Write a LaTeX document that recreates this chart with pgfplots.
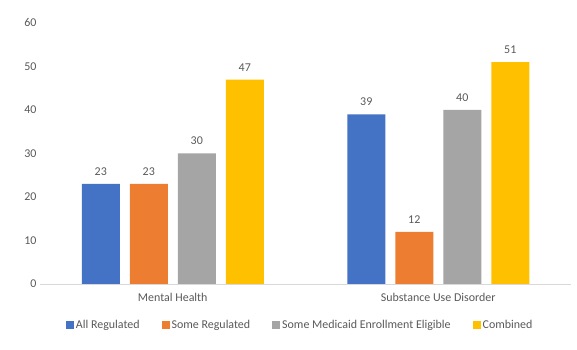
\documentclass[border=0pt]{standalone}
\usepackage{pgfplots}
\pgfplotsset{compat=1.18}
\usepackage{fontspec}
\setmainfont{Carlito}
\definecolor{cBlue}{HTML}{4472C4}
\definecolor{cOrange}{HTML}{ED7D31}
\definecolor{cGray}{HTML}{A5A5A5}
\definecolor{cYellow}{HTML}{FFC000}
\definecolor{txt}{HTML}{595959}
\definecolor{axl}{HTML}{D9D9D9}
\begin{document}
\begin{tikzpicture}
\useasboundingbox (0,0) rectangle (577bp,350bp);
\begin{axis}[
  at={(40bp,66bp)}, anchor=south west,
  scale only axis, width=531bp, height=261bp,
  ybar=10bp, bar width=38bp,
  xmin=-0.5, xmax=1.5, ymin=0, ymax=60,
  xtick={0,1}, xticklabels={Mental Health, Substance Use Disorder},
  ytick={0,10,...,60},
  axis x line*=bottom, axis y line*=left,
  x axis line style={-, draw=axl, line width=0.75bp},
  y axis line style={draw=none},
  major tick length=0pt,
  tick label style={font=\fontsize{12}{14}\selectfont, text=txt},
  xticklabel style={yshift=-6bp},
  /pgf/number format/assume math mode=true,
  nodes near coords,
  every node near coord/.append style={font=\fontsize{12}{14}\selectfont, text=txt, yshift=5bp},
  legend columns=4,
  legend style={at={(0.49,-0.157)}, anchor=center, draw=none, fill=none,
    font=\fontsize{12}{14}\selectfont, text=txt,
    /tikz/every even column/.append style={column sep=20bp},
    inner sep=0pt},
  legend image code/.code={\fill[#1] (0bp,-4bp) rectangle (8bp,4bp);},
]
\addplot[fill=cBlue, draw=none] coordinates {(0,23) (1,39)};
\addplot[fill=cOrange, draw=none] coordinates {(0,23) (1,12)};
\addplot[fill=cGray, draw=none] coordinates {(0,30) (1,40)};
\addplot[fill=cYellow, draw=none] coordinates {(0,47) (1,51)};
\legend{All Regulated, Some Regulated, Some Medicaid Enrollment Eligible, Combined}
\end{axis}
\end{tikzpicture}
\end{document}
